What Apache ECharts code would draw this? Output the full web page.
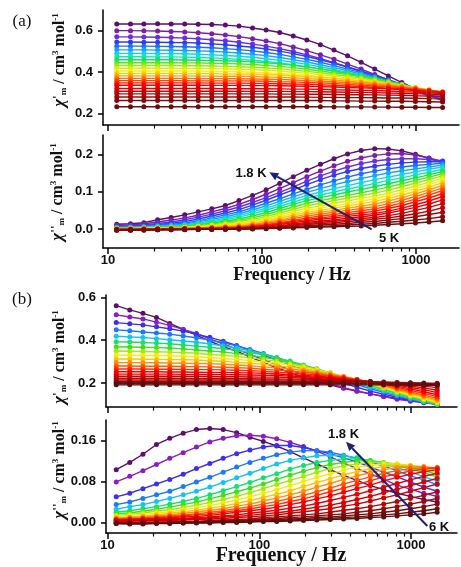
<!DOCTYPE html>
<html><head><meta charset="utf-8">
<script src="https://cdn.jsdelivr.net/npm/echarts@6/dist/echarts.min.js"></script>
<style>html,body{margin:0;padding:0;background:#fff}#c{width:461px;height:567px}</style>
</head><body><div id="c"></div>
<script>
// ---------- data ----------
const freqHz = [11.4,14.0,17.1,21.0,25.7,31.5,38.5,47.2,57.8,70.9,86.8,106.3,130.3,159.6,195.5,239.5,293.4,359.4,440.3,539.4,660.7,809.4,991.5,1214.6,1488];
const tempsA = [1.8,1.9,2.0,2.1,2.2,2.3,2.4,2.5,2.6,2.7,2.8,2.9,3.0,3.1,3.2,3.3,3.4,3.5,3.6,3.8,4.0,4.2,4.5,4.7,5.0];
const tempsB = [1.8,2.0,2.2,2.4,2.6,2.8,3.0,3.2,3.4,3.6,3.8,4.0,4.2,4.4,4.6,4.8,5.0,5.2,5.4,5.6,5.8,6.0];
const freqMajor = [10,100,1000];
const freqMinor = [20,30,40,50,60,70,80,90,200,300,400,500,600,700,800,900];
const ticksReA = [0.2,0.4,0.6];
const ticksImA = [0.0,0.1,0.2];
const ticksReB = [0.2,0.4,0.6];
const ticksImB = [0.0,0.08,0.16];

const chiReA = [
[.632,.632,.632,.633,.632,.632,.631,.630,.627,.622,.613,.603,.591,.574,.555,.532,.506,.478,.447,.414,.381,.349,.318,.289,.263],
[.600,.600,.599,.598,.596,.594,.590,.585,.579,.571,.561,.550,.537,.521,.503,.483,.462,.438,.414,.388,.362,.336,.310,.285,.262],
[.570,.570,.569,.568,.567,.564,.561,.556,.551,.544,.535,.525,.513,.499,.483,.465,.445,.424,.402,.379,.355,.332,.308,.286,.265],
[.545,.545,.544,.544,.543,.542,.540,.536,.532,.526,.520,.511,.501,.489,.475,.459,.442,.424,.405,.384,.363,.340,.317,.293,.268],
[.525,.525,.525,.524,.523,.522,.520,.517,.513,.508,.502,.494,.485,.473,.461,.447,.431,.414,.397,.378,.358,.338,.317,.295,.272],
[.507,.507,.507,.506,.505,.504,.502,.500,.496,.492,.486,.479,.470,.460,.448,.435,.421,.406,.390,.373,.355,.336,.317,.297,.276],
[.490,.490,.490,.489,.489,.488,.486,.483,.480,.476,.471,.464,.456,.447,.437,.425,.412,.398,.384,.368,.352,.335,.317,.299,.280],
[.474,.474,.474,.473,.473,.472,.470,.468,.465,.461,.457,.451,.444,.435,.426,.415,.404,.391,.378,.364,.349,.333,.317,.301,.284],
[.459,.459,.459,.459,.459,.458,.457,.456,.454,.452,.449,.444,.439,.432,.424,.415,.405,.394,.382,.370,.356,.341,.324,.307,.288],
[.445,.445,.445,.445,.445,.444,.444,.442,.441,.439,.436,.432,.427,.421,.413,.405,.396,.387,.376,.365,.352,.339,.324,.308,.291],
[.431,.431,.431,.431,.431,.430,.430,.429,.427,.425,.423,.419,.415,.409,.403,.396,.388,.379,.370,.359,.348,.336,.323,.309,.294],
[.418,.418,.418,.418,.418,.417,.417,.416,.415,.413,.411,.408,.404,.399,.393,.387,.380,.372,.364,.355,.345,.334,.323,.310,.297],
[.405,.405,.405,.405,.405,.405,.404,.403,.402,.401,.399,.396,.393,.388,.383,.378,.372,.365,.357,.350,.341,.332,.322,.311,.299],
[.393,.393,.393,.393,.393,.392,.392,.392,.391,.390,.389,.388,.385,.382,.378,.374,.369,.363,.357,.350,.343,.334,.324,.313,.301],
[.381,.381,.381,.381,.381,.381,.380,.380,.379,.379,.378,.376,.374,.372,.368,.365,.360,.355,.350,.344,.338,.330,.322,.313,.302],
[.369,.369,.369,.369,.369,.369,.368,.368,.368,.367,.366,.365,.364,.361,.358,.355,.352,.348,.343,.338,.333,.327,.320,.312,.303],
[.358,.358,.358,.358,.358,.358,.357,.357,.357,.357,.356,.355,.353,.352,.349,.347,.344,.340,.336,.332,.328,.323,.317,.310,.303],
[.347,.347,.347,.347,.347,.347,.347,.346,.346,.346,.345,.344,.343,.342,.340,.338,.335,.332,.329,.326,.322,.318,.313,.308,.302],
[.336,.336,.336,.336,.336,.336,.336,.335,.335,.335,.334,.334,.333,.332,.331,.329,.327,.325,.323,.321,.318,.314,.310,.305,.300],
[.320,.320,.320,.320,.320,.320,.320,.320,.319,.319,.319,.319,.318,.317,.317,.316,.314,.313,.311,.310,.308,.305,.303,.300,.296],
[.307,.307,.307,.307,.307,.307,.307,.307,.307,.306,.306,.306,.306,.305,.305,.304,.303,.302,.301,.300,.298,.297,.295,.293,.290],
[.294,.294,.294,.294,.294,.294,.294,.294,.294,.294,.294,.294,.293,.293,.292,.292,.291,.290,.290,.289,.288,.287,.285,.284,.282],
[.279,.279,.279,.279,.279,.279,.279,.279,.279,.279,.279,.279,.279,.279,.278,.277,.277,.276,.276,.275,.274,.274,.273,.271,.270],
[.262,.262,.262,.262,.262,.262,.262,.262,.262,.262,.262,.262,.262,.262,.262,.262,.260,.260,.259,.259,.258,.258,.257,.256,.255],
[.232,.232,.232,.232,.232,.232,.232,.232,.232,.232,.232,.232,.232,.232,.232,.232,.231,.231,.231,.230,.230,.229,.229,.228,.228]
];

const chiImA = [
[.013,.014,.017,.025,.031,.038,.046,.054,.063,.076,.090,.105,.122,.140,.157,.173,.188,.201,.210,.215,.214,.209,.200,.189,.177],
[.010,.011,.014,.019,.024,.030,.037,.046,.055,.066,.079,.093,.108,.124,.140,.155,.169,.181,.190,.197,.201,.202,.198,.190,.181],
[.008,.009,.011,.015,.019,.025,.032,.040,.049,.059,.071,.084,.098,.113,.128,.142,.155,.166,.175,.182,.186,.188,.188,.186,.182],
[.006,.007,.009,.012,.015,.020,.027,.035,.043,.052,.064,.077,.091,.105,.119,.132,.144,.154,.162,.168,.173,.177,.179,.180,.180],
[.005,.006,.007,.010,.012,.016,.022,.030,.038,.046,.057,.069,.081,.094,.106,.118,.129,.139,.148,.155,.161,.166,.170,.173,.176],
[.004,.005,.006,.008,.010,.013,.019,.026,.033,.041,.051,.062,.074,.086,.098,.108,.118,.127,.135,.143,.150,.156,.161,.166,.171],
[.003,.004,.005,.006,.008,.011,.016,.022,.029,.036,.046,.056,.067,.079,.090,.099,.108,.116,.124,.132,.139,.146,.153,.160,.166],
[.003,.003,.004,.005,.007,.009,.013,.019,.025,.032,.041,.051,.061,.072,.083,.091,.099,.107,.114,.122,.130,.137,.145,.152,.160],
[.002,.003,.003,.004,.006,.008,.011,.016,.021,.027,.035,.044,.055,.066,.076,.084,.091,.099,.106,.113,.121,.129,.137,.145,.154],
[.002,.002,.003,.004,.005,.007,.009,.013,.018,.023,.030,.039,.049,.059,.069,.076,.083,.090,.097,.104,.112,.121,.130,.139,.148],
[.002,.002,.002,.003,.004,.005,.008,.011,.015,.020,.026,.034,.043,.053,.062,.069,.076,.083,.089,.096,.104,.113,.123,.132,.142],
[.001,.001,.002,.002,.003,.004,.006,.009,.012,.016,.022,.029,.038,.047,.056,.062,.069,.075,.082,.088,.096,.105,.115,.125,.136],
[.001,.001,.002,.002,.003,.004,.006,.008,.011,.014,.019,.026,.033,.042,.050,.056,.062,.068,.075,.081,.089,.098,.108,.119,.130],
[.001,.001,.001,.002,.002,.003,.004,.006,.008,.011,.016,.022,.029,.037,.045,.050,.056,.062,.068,.074,.082,.091,.101,.112,.124],
[.000,.001,.001,.001,.002,.002,.003,.004,.006,.008,.012,.018,.024,.032,.040,.045,.050,.056,.061,.067,.075,.084,.094,.105,.117],
[.000,.000,.001,.001,.001,.002,.003,.004,.005,.006,.010,.015,.021,.028,.035,.040,.045,.050,.055,.060,.068,.077,.087,.098,.110],
[.000,.000,.000,.001,.001,.001,.002,.003,.004,.005,.008,.012,.017,.023,.030,.035,.039,.044,.049,.054,.061,.070,.080,.091,.103],
[-.001,-.001,.000,.000,.000,.001,.001,.002,.003,.004,.007,.010,.015,.020,.026,.030,.034,.039,.043,.048,.055,.063,.073,.083,.095],
[-.001,-.001,-.001,.000,.000,.000,.001,.001,.002,.003,.005,.008,.012,.017,.022,.026,.030,.034,.038,.042,.048,.056,.065,.075,.087],
[-.001,-.001,-.001,-.001,.000,.000,.000,.001,.001,.002,.004,.006,.009,.013,.018,.021,.025,.029,.033,.037,.043,.050,.058,.067,.078],
[-.002,-.002,-.001,-.001,-.001,.000,.000,.000,.001,.002,.003,.005,.007,.011,.015,.018,.021,.024,.028,.031,.036,.042,.050,.058,.068],
[-.002,-.002,-.002,-.001,-.001,-.001,.000,.000,.000,.001,.002,.004,.006,.009,.012,.015,.017,.020,.023,.026,.030,.035,.041,.048,.057],
[-.002,-.002,-.002,-.002,-.001,-.001,-.001,.000,.000,.001,.002,.003,.004,.006,.009,.011,.013,.015,.018,.020,.024,.028,.033,.039,.045],
[-.003,-.003,-.002,-.002,-.002,-.001,-.001,-.001,.000,.000,.001,.002,.003,.004,.006,.007,.009,.011,.013,.015,.018,.021,.024,.028,.033],
[-.003,-.003,-.003,-.002,-.002,-.002,-.001,-.001,-.001,.000,.000,.001,.002,.003,.004,.005,.006,.007,.008,.010,.012,.014,.016,.019,.022]
];

const chiReB = [
[.561,.541,.525,.506,.478,.450,.423,.395,.369,.349,.322,.296,.271,.248,.227,.208,.191,.175,.161,.149,.138,.128,.119,.112,.105],
[.518,.508,.499,.484,.469,.450,.431,.406,.382,.358,.333,.309,.285,.261,.238,.217,.197,.178,.163,.149,.136,.124,.115,.107,.100],
[.482,.476,.471,.462,.453,.442,.428,.413,.395,.375,.352,.330,.308,.285,.263,.241,.219,.199,.180,.162,.147,.133,.121,.110,.100],
[.448,.444,.438,.433,.428,.419,.411,.400,.388,.373,.356,.338,.317,.296,.275,.254,.233,.212,.192,.173,.156,.139,.124,.111,.100],
[.418,.415,.412,.407,.402,.396,.390,.382,.374,.362,.350,.335,.319,.299,.279,.259,.239,.219,.199,.180,.162,.144,.128,.112,.100],
[.392,.391,.389,.386,.383,.377,.372,.367,.360,.352,.342,.331,.317,.302,.284,.265,.246,.226,.207,.188,.169,.150,.133,.116,.101],
[.369,.368,.367,.365,.363,.359,.354,.349,.345,.337,.330,.320,.309,.296,.281,.265,.246,.228,.209,.190,.172,.153,.136,.119,.103],
[.349,.348,.347,.346,.344,.342,.339,.333,.329,.324,.317,.310,.301,.290,.278,.263,.247,.229,.211,.193,.175,.157,.139,.122,.106],
[.330,.329,.328,.328,.327,.325,.322,.319,.314,.310,.305,.298,.292,.283,.272,.260,.246,.231,.213,.196,.179,.161,.144,.127,.110],
[.312,.312,.311,.310,.309,.308,.307,.304,.301,.296,.292,.288,.281,.274,.266,.256,.244,.231,.216,.199,.182,.165,.149,.132,.115],
[.295,.295,.294,.294,.293,.292,.291,.290,.287,.284,.280,.275,.271,.265,.258,.250,.241,.229,.216,.202,.186,.170,.153,.137,.121],
[.279,.279,.278,.278,.278,.277,.276,.275,.273,.271,.269,.264,.260,.256,.250,.244,.236,.227,.216,.204,.190,.174,.159,.143,.128],
[.265,.265,.265,.264,.264,.263,.262,.262,.261,.259,.257,.255,.250,.247,.243,.237,.231,.224,.215,.205,.193,.180,.165,.151,.136],
[.252,.252,.252,.252,.251,.251,.250,.249,.249,.248,.247,.245,.242,.238,.235,.231,.226,.220,.213,.205,.196,.185,.172,.159,.145],
[.241,.241,.241,.241,.241,.240,.240,.239,.239,.238,.237,.236,.235,.232,.229,.226,.222,.217,.212,.207,.198,.190,.179,.169,.155],
[.231,.231,.231,.231,.231,.231,.231,.230,.229,.229,.228,.227,.227,.225,.223,.221,.217,.214,.211,.205,.200,.194,.186,.177,.166],
[.222,.222,.222,.222,.222,.222,.221,.221,.221,.220,.220,.219,.219,.218,.218,.216,.214,.211,.208,.205,.201,.197,.192,.185,.178],
[.214,.214,.214,.214,.214,.214,.214,.214,.214,.214,.214,.214,.214,.213,.213,.212,.211,.210,.208,.206,.204,.201,.198,.194,.190],
[.207,.207,.207,.207,.207,.207,.207,.207,.207,.207,.207,.207,.207,.207,.207,.207,.206,.206,.205,.204,.203,.202,.201,.200,.198],
[.201,.201,.201,.201,.201,.201,.201,.201,.201,.201,.201,.201,.201,.201,.201,.201,.201,.201,.200,.200,.199,.199,.198,.197,.196],
[.196,.196,.196,.196,.196,.196,.196,.196,.196,.196,.196,.196,.196,.196,.196,.196,.196,.196,.196,.196,.195,.195,.194,.194,.193],
[.191,.191,.191,.191,.191,.191,.191,.191,.191,.191,.191,.191,.191,.191,.191,.191,.191,.191,.191,.191,.191,.190,.190,.189,.189]
];

const chiImB = [
[.103,.117,.133,.152,.164,.174,.181,.183,.181,.175,.166,.158,.149,.138,.126,.114,.103,.092,.082,.072,.064,.057,.051,.045,.040],
[.079,.090,.101,.113,.125,.136,.147,.157,.164,.169,.170,.168,.163,.156,.148,.139,.128,.116,.105,.095,.084,.073,.065,.057,.051],
[.050,.057,.066,.075,.084,.094,.105,.115,.125,.134,.141,.147,.150,.150,.146,.140,.134,.126,.118,.108,.098,.089,.079,.069,.061],
[.035,.040,.047,.054,.061,.070,.079,.088,.098,.108,.117,.125,.132,.137,.140,.140,.137,.131,.125,.118,.110,.101,.091,.083,.074],
[.026,.031,.035,.041,.047,.054,.061,.069,.078,.087,.096,.105,.114,.121,.126,.130,.131,.130,.126,.120,.114,.107,.099,.089,.081],
[.020,.023,.027,.031,.036,.041,.047,.054,.062,.070,.078,.087,.095,.104,.111,.117,.121,.124,.124,.121,.116,.110,.105,.097,.089],
[.017,.019,.022,.026,.030,.035,.040,.046,.053,.060,.067,.075,.084,.092,.100,.107,.113,.117,.120,.120,.117,.112,.107,.101,.094],
[.014,.016,.019,.022,.025,.029,.034,.039,.045,.051,.058,.066,.074,.082,.090,.098,.105,.110,.114,.117,.117,.114,.109,.104,.099],
[.012,.014,.016,.018,.021,.025,.029,.033,.038,.044,.050,.057,.064,.072,.080,.088,.095,.102,.108,.111,.114,.114,.111,.107,.101],
[.010,.011,.013,.015,.018,.021,.024,.028,.032,.037,.043,.049,.055,.062,.070,.078,.085,.093,.099,.105,.109,.111,.111,.108,.104],
[.008,.010,.011,.013,.015,.018,.020,.024,.027,.032,.036,.042,.048,.054,.061,.069,.076,.084,.091,.097,.103,.107,.109,.109,.106],
[.007,.008,.009,.011,.013,.015,.017,.020,.023,.027,.031,.036,.041,.047,.053,.060,.067,.075,.082,.089,.096,.101,.105,.107,.107],
[.006,.007,.008,.009,.011,.013,.015,.017,.020,.023,.027,.031,.035,.041,.046,.053,.060,.067,.074,.081,.089,.095,.100,.104,.106],
[.005,.006,.007,.008,.009,.011,.012,.014,.017,.020,.023,.026,.030,.035,.040,.046,.052,.059,.066,.073,.081,.088,.094,.099,.103],
[.004,.004,.005,.006,.007,.008,.010,.011,.013,.015,.018,.021,.024,.028,.032,.037,.043,.049,.055,.062,.069,.076,.083,.090,.096],
[.003,.004,.004,.005,.006,.007,.008,.009,.011,.012,.014,.017,.019,.022,.026,.030,.034,.039,.045,.051,.058,.065,.072,.079,.086],
[.002,.003,.003,.004,.004,.005,.006,.007,.008,.010,.011,.013,.015,.018,.021,.024,.027,.032,.036,.042,.048,.054,.061,.068,.075],
[.000,.000,.000,.001,.001,.002,.002,.004,.005,.006,.007,.010,.011,.013,.015,.017,.020,.024,.027,.031,.036,.041,.047,.053,.060],
[-.001,-.001,.000,.000,.000,.001,.001,.003,.003,.004,.005,.007,.008,.010,.011,.013,.015,.017,.020,.023,.027,.031,.036,.041,.047],
[-.001,-.001,-.001,-.001,.000,.000,.000,.002,.002,.003,.003,.005,.006,.007,.008,.010,.011,.013,.015,.017,.020,.023,.027,.031,.036],
[-.002,-.002,-.002,-.001,-.001,-.001,.000,.000,.001,.002,.002,.003,.004,.005,.006,.007,.008,.010,.011,.013,.015,.017,.020,.023,.027],
[-.002,-.003,-.003,-.002,-.002,-.001,-.001,-.001,.000,.000,.001,.002,.002,.003,.004,.005,.006,.007,.008,.010,.011,.013,.015,.017,.020]
];

const colorsA = ['#5b0f6e','#7d1fa6','#6a2ee0','#2e3cf2','#1f6ef5','#1aa3f2','#14d2ee','#12e8b4','#18e05a','#4ee81c','#9ae814','#d6ee10','#fbee0a','#ffcb08','#ffa006','#ff7204','#ff4402','#ff1a00','#f40000','#e20202','#cc0404','#b40808','#9a0a0a','#800c0c','#661010'];
const colorsB = ['#5b0f6e','#8a1fc0','#3a30ee','#1f78f5','#15c2f0','#14e070','#3ee01a','#a6e812','#f0ee0a','#ffc408','#ff9005','#ff5a03','#ff2a00','#f80000','#e80000','#d80202','#c40606','#ae0808','#960a0a','#7e0c0c','#6a0e0e','#580f0f'];

// ---------- chart ----------
const LBL = {fontFamily:'Liberation Sans', fontWeight:'bold', fontSize:13, color:'#111'};
const AX = {color:'#000', width:1.5};

function xAxes(gridIndex, min, max, showLabels){
  return [
    {type:'log', logBase:10, gridIndex, min, max, position:'bottom',
     axisLine:{show:true, onZero:false, lineStyle:AX},
     axisTick:{show:true, customValues:freqMajor, length:6, lineStyle:AX},
     axisLabel:Object.assign({show:showLabels, customValues:freqMajor, margin:6,
        formatter:v=>String(Math.round(v))}, LBL),
     splitLine:{show:false}},
    {type:'log', logBase:10, gridIndex, min, max, position:'bottom',
     axisLine:{show:false, onZero:false},
     axisTick:{show:true, customValues:freqMinor, length:3.5, lineStyle:{color:'#000', width:1.2}},
     axisLabel:{show:false}, splitLine:{show:false}}
  ];
}
function yAxis(gridIndex, min, max, ticks, dec){
  return {type:'value', gridIndex, min, max,
    axisLine:{show:true, onZero:false, lineStyle:AX},
    axisTick:{show:true, customValues:ticks, length:5, lineStyle:AX},
    axisLabel:Object.assign({customValues:ticks, margin:10, formatter:v=>Number(v).toFixed(dec)}, LBL),
    splitLine:{show:false}};
}
function build(arrs, colors, temps, xi, yi){
  return arrs.map((vals,k)=>({
    name: temps[k]+' K', type:'line', xAxisIndex:xi, yAxisIndex:yi,
    data: freqHz.map((f,i)=>[f, vals[i]]),
    symbol:'circle', symbolSize:5, showSymbol:true, clip:false, silent:true,
    lineStyle:{color:colors[k], width:1.4}, itemStyle:{color:colors[k]}
  }));
}
function yTitle(x, y, prime){
  const base = {fontFamily:'Liberation Serif', fontWeight:'bold', fill:'#111'};
  return {type:'text', x, y, rotation:Math.PI/2, z:100, silent:true,
    style:{text:'{it|χ}{p|'+prime+'}{sub|m}{n| / cm}{sup|3}{n| mol}{sup|-1}',
      align:'center', verticalAlign:'middle', textAlign:'center', textVerticalAlign:'middle',
      rich:{
        it:Object.assign({}, base, {fontStyle:'italic', fontSize:17}),
        p:Object.assign({}, base, {fontSize:13, verticalAlign:'top'}),
        sub:Object.assign({}, base, {fontSize:9, verticalAlign:'bottom'}),
        n:Object.assign({}, base, {fontSize:16}),
        sup:Object.assign({}, base, {fontSize:9, verticalAlign:'top'})
      }}};
}
function txt(x, y, s, font, align){
  return {type:'text', x, y, z:100, silent:true,
    style:{text:s, font, fill:'#111', align:align||'center', verticalAlign:'middle',
      textAlign:align||'center', textVerticalAlign:'middle'}};
}
function arrow(tail, base, head){
  return [
    {type:'line', z:99, silent:true, shape:{x1:tail[0], y1:tail[1], x2:base[0], y2:base[1]},
     style:{stroke:'#1b2270', lineWidth:2}},
    {type:'polygon', z:99, silent:true, shape:{points:head}, style:{fill:'#1b2270'}}
  ];
}

const chart = echarts.init(document.getElementById('c'), null, {renderer:'canvas'});
const option = {
  animation:false,
  backgroundColor:'#fff',
  grid:[
    {left:103, top:10, width:356, height:115},
    {left:103, top:135, width:356, height:113},
    {left:106, top:295, width:351, height:112},
    {left:106, top:420, width:351, height:113}
  ],
  xAxis:[].concat(
    xAxes(0, 9.28, 1902, false),
    xAxes(1, 9.28, 1902, true),
    xAxes(2, 9.76, 2011, false),
    xAxes(3, 9.76, 2011, true)
  ),
  yAxis:[
    yAxis(0, 0.1433, 0.700, ticksReA, 1),
    yAxis(1, -0.0507, 0.2515, ticksImA, 1),
    yAxis(2, 0.0876, 0.6108, ticksReB, 1),
    yAxis(3, -0.0203, 0.1996, ticksImB, 2)
  ],
  series:[].concat(
    build(chiReA, colorsA, tempsA, 0, 0),
    build(chiImA, colorsA, tempsA, 2, 1),
    build(chiReB, colorsB, tempsB, 4, 2),
    build(chiImB, colorsB, tempsB, 6, 3)
  ),
  graphic:[].concat(
    [txt(22, 22, '(a)', '17px "Liberation Serif"'),
     txt(22, 300, '(b)', '17px "Liberation Serif"'),
     yTitle(60, 60, "'"),
     yTitle(58, 192, "''"),
     yTitle(60, 357, "'"),
     yTitle(60, 470, "''"),
     txt(292, 275, 'Frequency / Hz', 'bold 18px "Liberation Serif"'),
     txt(281, 556, 'Frequency / Hz', 'bold 20px "Liberation Serif"'),
     txt(251, 173, '1.8 K', 'bold 13px "Liberation Sans"'),
     txt(389, 238.5, '5 K', 'bold 13px "Liberation Sans"'),
     txt(343.5, 434, '1.8 K', 'bold 13px "Liberation Sans"'),
     txt(439, 527.5, '6 K', 'bold 13px "Liberation Sans"')],
    arrow([371.7,229.3],[277.2,176.7],[[269.3,172.3],[279.1,173.2],[275.2,180.2]]),
    arrow([427.3,526],[352.2,448.2],[[346,441.7],[355.1,445.4],[349.3,451.0]])
  )
};
chart.setOption(option);
</script>
</body></html>
